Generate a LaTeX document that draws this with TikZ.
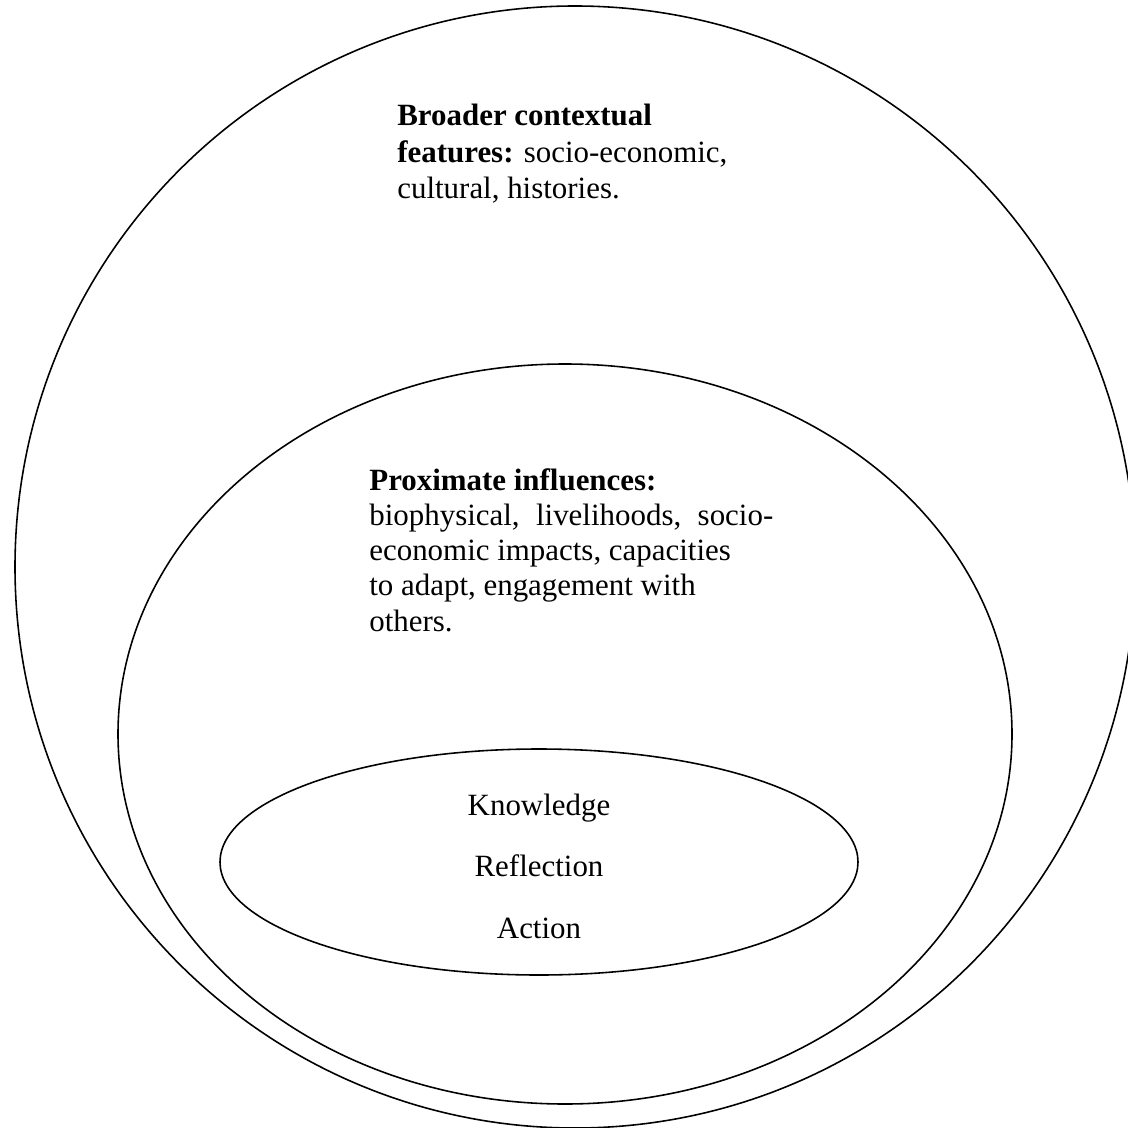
\documentclass[tikz,border=0pt]{standalone}
\usepackage{fontspec}
\setmainfont{Liberation Serif}
\usepackage{tikz}

\tikzset{
  ring/.style={black, line width=0.9pt},
  label/.style={anchor=base west, align=left, inner sep=0pt,
    font=\fontsize{17.6}{20}\selectfont},
  core/.style={anchor=base, inner sep=0pt, font=\fontsize{17.6}{20}\selectfont}
}

\begin{document}
\begin{tikzpicture}[x=0.02cm, y=-0.02cm]
        \useasboundingbox (0,0) rectangle (1128,1128);
        % three nested rings
        \draw[ring] (575,567) ellipse [x radius=560, y radius=561];
        \draw[ring] (565,734) ellipse [x radius=447, y radius=370];
        \draw[ring] (539,862) ellipse [x radius=319, y radius=113];
        % texts (base = last line)
        \node[label] (broad) at (397,199) {\textbf{Broader contextual}\\[1pt]
            \textbf{features:} socio-economic,\\[1pt] cultural, histories.};
        \node[label] (prox) at (369,631) {\textbf{Proximate influences:}\\
            \makebox[8.08cm][s]{biophysical, livelihoods, socio-}\\ economic impacts, capacities\\
            to adapt, engagement with\\ others.};
        \foreach \w/\y in {Knowledge/815, Reflection/876, Action/938}{
            \node[core] (\w) at (539,\y) {\w};
        }
    \end{tikzpicture}
\end{document}
